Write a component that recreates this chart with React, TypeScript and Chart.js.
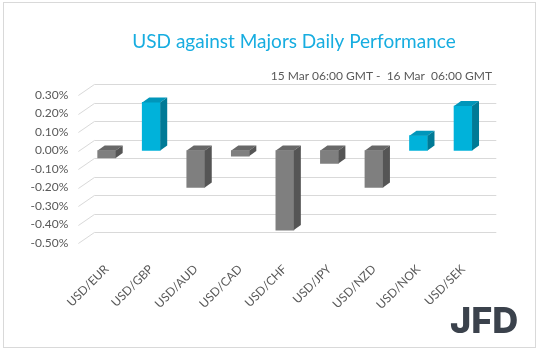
import React, { useEffect, useRef } from "react";
import { Chart, registerables } from "chart.js";

Chart.register(...registerables);

const categories = ["USD/EUR", "USD/GBP", "USD/AUD", "USD/CAD", "USD/CHF", "USD/JPY", "USD/NZD", "USD/NOK", "USD/SEK"];
const values = [-0.04, 0.26, -0.2, -0.03, -0.43, -0.07, -0.2, 0.08, 0.24];
const titleText = "USD against Majors Daily Performance";
const subtitleText = "15 Mar 06:00 GMT -  16 Mar  06:00 GMT";
const logoText = "JFD";
const yMin = -0.5;
const yMax = 0.3;
const yStep = 0.1;

const POS = { front: "#00B2DA", side: "#007A96", top: "#0096BA" };
const NEG = { front: "#7F7F7F", side: "#555555", top: "#686868" };

const decoPlugin = {
  id: "deco",
  beforeDraw(chart: any) {
    const ctx = chart.ctx;
    ctx.save();
    ctx.fillStyle = "#ffffff";
    ctx.fillRect(0, 0, chart.width, chart.height);
    ctx.strokeStyle = "#D9D9D9";
    ctx.lineWidth = 1;
    ctx.strokeRect(3.5, 2.5, 532, 345);
    ctx.fillStyle = "#17ADE0";
    ctx.font = "19px Lato";
    ctx.textAlign = "center";
    ctx.textBaseline = "alphabetic";
    ctx.fillText(titleText, 294, 48);
    ctx.fillStyle = "#595959";
    ctx.font = "12px Lato";
    ctx.textAlign = "right";
    ctx.fillText(subtitleText, 492, 80);
    ctx.fillStyle = "#3B424C";
    ctx.font = "800 36px Inter";
    ctx.textAlign = "left";
    ctx.fillText(logoText, 450, 333);
    ctx.restore();
  },
  beforeDatasetsDraw(chart: any) {
    const ctx = chart.ctx;
    const ys = chart.scales.y;
    const area = chart.chartArea;
    ctx.save();
    ctx.strokeStyle = "#D9D9D9";
    ctx.lineWidth = 1;
    ys.ticks.forEach((t: any) => {
      const fy = Math.round(ys.getPixelForValue(t.value)) + 0.5;
      ctx.beginPath();
      ctx.moveTo(area.left - 6, fy);
      ctx.lineTo(area.left + 10, fy - 11);
      ctx.lineTo(area.right + 11, fy - 11);
      ctx.stroke();
    });
    ctx.restore();
  },
  afterDatasetsDraw(chart: any) {
    const ctx = chart.ctx;
    const meta = chart.getDatasetMeta(0);
    const dx = 7;
    const dy = -5;
    ctx.save();
    meta.data.forEach((el: any, i: number) => {
      const p = el.getProps(["x", "y", "base", "width"], true);
      const l = p.x - p.width / 2;
      const r = p.x + p.width / 2;
      const top = Math.min(p.y, p.base);
      const bot = Math.max(p.y, p.base);
      const c = values[i] >= 0 ? POS : NEG;
      ctx.fillStyle = c.top;
      ctx.beginPath();
      ctx.moveTo(l, top);
      ctx.lineTo(l + dx, top + dy);
      ctx.lineTo(r + dx, top + dy);
      ctx.lineTo(r, top);
      ctx.closePath();
      ctx.fill();
      ctx.fillStyle = c.side;
      ctx.beginPath();
      ctx.moveTo(r, top);
      ctx.lineTo(r + dx, top + dy);
      ctx.lineTo(r + dx, bot + dy);
      ctx.lineTo(r, bot);
      ctx.closePath();
      ctx.fill();
    });
    ctx.restore();
  },
};

export default function App() {
  const ref = useRef<HTMLCanvasElement | null>(null);
  useEffect(() => {
    if (!ref.current) return;
    const chart = new Chart(ref.current, {
      type: "bar",
      data: {
        labels: categories,
        datasets: [
          {
            data: values,
            backgroundColor: values.map((v) => (v >= 0 ? POS.front : NEG.front)),
            borderWidth: 0,
            barThickness: 18,
          },
        ],
      },
      options: {
        responsive: false,
        animation: false,
        devicePixelRatio: 1,
        layout: { padding: { left: 0, right: 53.7, top: 95, bottom: 0 } },
        plugins: { legend: { display: false }, tooltip: { enabled: false }, title: { display: false } },
        scales: {
          x: {
            grid: { display: false },
            border: { display: false },
            ticks: {
              maxRotation: 45,
              minRotation: 45,
              color: "#595959",
              font: { family: "Lato", size: 12 },
              padding: 11,
            },
            afterFit: (s: any) => {
              s.height = 108;
            },
          },
          y: {
            min: yMin,
            max: yMax,
            grid: { display: false, drawTicks: false },
            border: { display: false },
            ticks: {
              stepSize: yStep,
              padding: 16,
              color: "#595959",
              font: { family: "Lato", size: 12 },
              callback: (v: any) => (Math.round(Number(v) * 100) / 100 + 0).toFixed(2) + "%",
            },
            afterFit: (s: any) => {
              s.width = 84.4;
            },
          },
        },
      },
      plugins: [decoPlugin],
    });
    return () => chart.destroy();
  }, []);
  return (
    <div style={{ position: "fixed", left: 0, top: 0, width: 539, height: 351, background: "#fff" }}>
      <canvas ref={ref} width={539} height={351} style={{ display: "block" }} />
    </div>
  );
}
